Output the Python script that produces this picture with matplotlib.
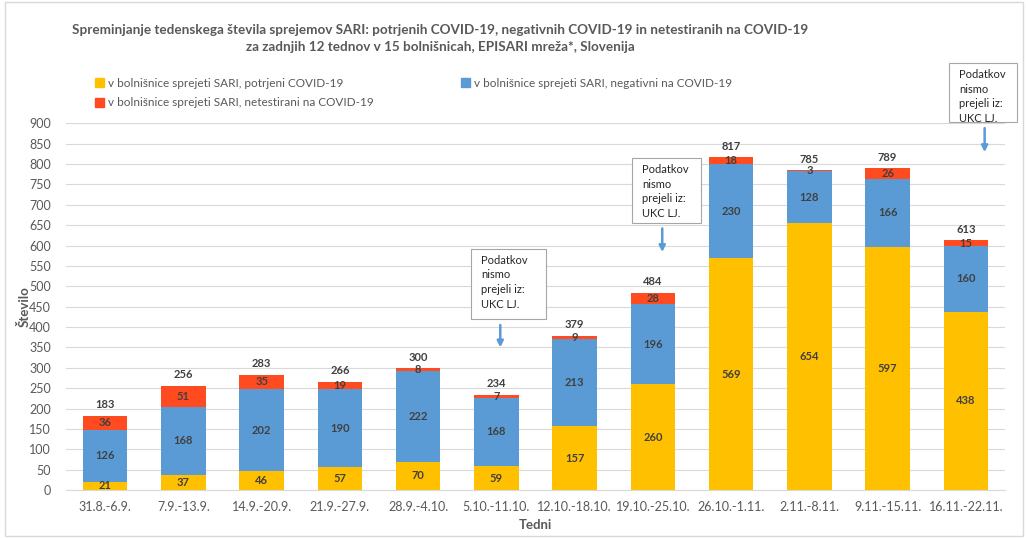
import matplotlib
matplotlib.use("Agg")
import matplotlib.pyplot as plt
import numpy as np
from matplotlib.patches import Patch, Rectangle

plt.rcParams["font.family"] = ["Lato", "DejaVu Sans"]

weeks = ["31.8.-6.9.", "7.9.-13.9.", "14.9.-20.9.", "21.9.-27.9.", "28.9.-4.10.",
         "5.10.-11.10.", "12.10.-18.10.", "19.10.-25.10.", "26.10.-1.11.",
         "2.11.-8.11.", "9.11.-15.11.", "16.11.-22.11."]
confirmed = [21, 37, 46, 57, 70, 59, 157, 260, 569, 654, 597, 438]
negative = [126, 168, 202, 190, 222, 168, 213, 196, 230, 128, 166, 160]
untested = [36, 51, 35, 19, 8, 7, 9, 28, 18, 3, 26, 15]
totals = [183, 256, 283, 266, 300, 234, 379, 484, 817, 785, 789, 613]
no_data_weeks = [5, 7, 11]

YELLOW = "#FFC000"
BLUE = "#5B9BD5"
RED = "#FF4B1F"
TXT = "#404040"

fig = plt.figure(figsize=(10.28, 5.38), dpi=100)
ax = fig.add_axes([0.0642, 0.089, 0.9134, 0.682])

x = np.arange(len(weeks))
w = 0.57
conf = np.array(confirmed)
neg = np.array(negative)
unt = np.array(untested)
ax.bar(x, conf, w, color=YELLOW, zorder=2)
ax.bar(x, neg, w, bottom=conf, color=BLUE, zorder=2)
ax.bar(x, unt, w, bottom=conf + neg, color=RED, zorder=2)

lab = dict(ha="center", va="center", fontsize=8, fontweight="bold", color=TXT, zorder=3)
for i in range(len(weeks)):
    ax.text(x[i], conf[i] / 2, str(confirmed[i]), **lab)
    ax.text(x[i], conf[i] + neg[i] / 2, str(negative[i]), **lab)
    ax.text(x[i], conf[i] + neg[i] + unt[i] / 2, str(untested[i]), **lab)
    ax.text(x[i], totals[i] + 13, str(totals[i]), ha="center", va="bottom",
            fontsize=8, fontweight="bold", color=TXT, zorder=3)

# "no data" notes: (box left, box right, box bottom, box top, arrow dx, arrow from, arrow to)
notes = {5: (-0.32, 0.63, 419, 591, 0.05, 405, 350),
         7: (-0.27, 0.61, 655, 814, 0.12, 642, 584),
         11: (-0.22, 0.66, 904, 1047, 0.24, 888, 829)}
for i in no_data_weeks:
    l, r, b, t, dx, a0, a1 = notes[i]
    ax.add_patch(Rectangle((x[i] + l, b), r - l, t - b, fc="white", ec="#A6A6A6",
                           lw=0.8, clip_on=False, zorder=4))
    ax.text(x[i] + l + 0.13, t - 14, "Podatkov\nnismo\nprejeli iz:\nUKC LJ.",
            ha="left", va="top", fontsize=8, color="#262626", linespacing=1.4,
            clip_on=False, zorder=5)
    ax.annotate("", xy=(x[i] + dx, a1), xytext=(x[i] + dx, a0),
                arrowprops=dict(arrowstyle="-|>", color=BLUE, lw=1.8,
                                mutation_scale=9, shrinkA=0, shrinkB=0),
                annotation_clip=False, zorder=4)

ax.set_xlim(-0.5, len(weeks) - 0.5)
ax.set_ylim(0, 900)
ax.set_yticks(np.arange(0, 901, 50))
ax.set_xticks(x)
ax.set_xticklabels(weeks)
ax.tick_params(axis="y", length=0, labelsize=9, colors="#595959", pad=11)
ax.tick_params(axis="x", length=0, labelsize=9, colors="#595959", pad=8)
ax.yaxis.grid(True, color="#D9D9D9", lw=0.8, zorder=0)
for s in ["top", "right", "left"]:
    ax.spines[s].set_visible(False)
ax.spines["bottom"].set_color("#D9D9D9")

ax.set_ylabel("Število", fontsize=9.5, fontweight="bold", color="#595959", labelpad=-1)
ax.set_xlabel("Tedni", fontsize=9.5, fontweight="bold", color="#595959", labelpad=4)

fig.text(0.428, 0.955, "Spreminjanje tedenskega števila sprejemov SARI: potrjenih COVID-19, "
         "negativnih COVID-19 in netestiranih na COVID-19\n"
         "za zadnjih 12 tednov v 15 bolnišnicah, EPISARI mreža*, Slovenija",
         ha="center", va="top", fontsize=9.7, fontweight="bold", color="#595959",
         linespacing=1.45)

handles = [Patch(color=YELLOW, label="v bolnišnice sprejeti SARI, potrjeni COVID-19"),
           Patch(color=RED, label="v bolnišnice sprejeti SARI, netestirani na COVID-19"),
           Patch(color=BLUE, label="v bolnišnice sprejeti SARI, negativni na COVID-19")]
fig.legend(handles=handles, loc="upper left", bbox_to_anchor=(0.082, 0.875), ncol=2,
           frameon=False, fontsize=8.5, handlelength=0.8, handleheight=0.8,
           handletextpad=0.3, columnspacing=7.4, labelspacing=0.7,
           labelcolor="#595959")

fig.add_artist(Rectangle((0.005, 0.003), 0.99, 0.993, transform=fig.transFigure,
                         fill=False, ec="#D9D9D9", lw=1))

fig.savefig("out.png", dpi=100)
